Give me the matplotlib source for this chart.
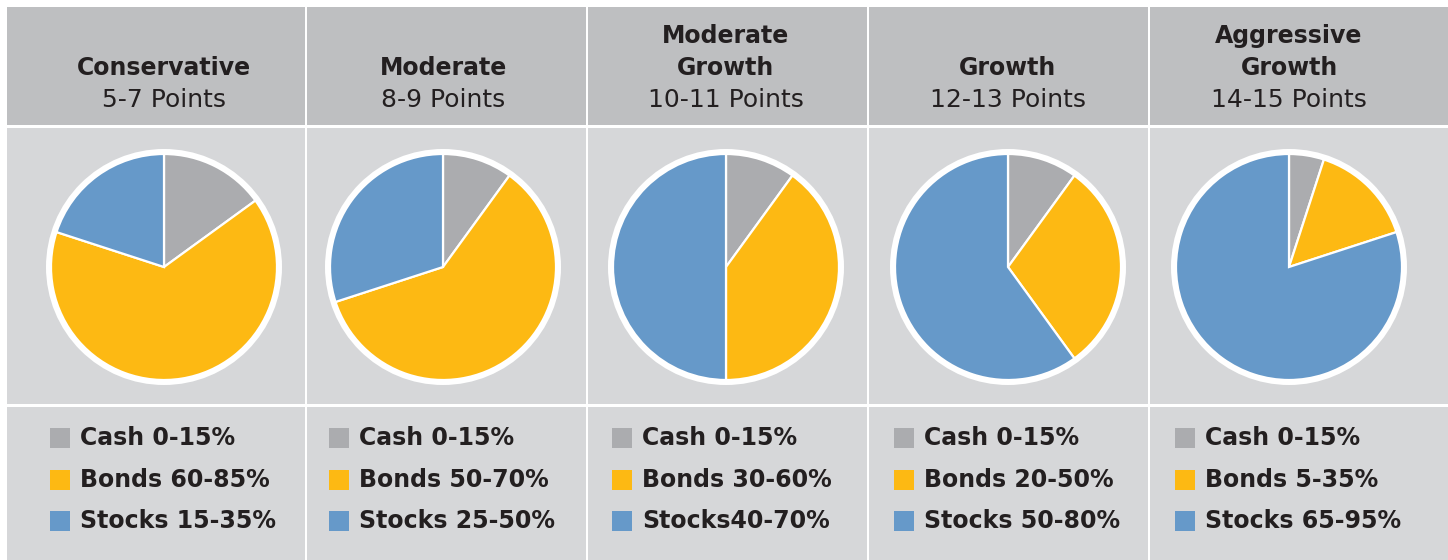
"""
Risk profile allocation pies
"""
import matplotlib.pyplot as plt
from matplotlib.patches import Rectangle, Circle

profiles = ["Conservative", "Moderate", "Moderate\nGrowth", "Growth", "Aggressive\nGrowth"]
points = ["5-7 Points", "8-9 Points", "10-11 Points", "12-13 Points", "14-15 Points"]

# pie shares (percent)
cash = [15, 10, 10, 10, 5]
bonds = [65, 60, 40, 30, 15]
stocks = [20, 30, 50, 60, 80]

cash_labels = ["Cash 0-15%"] * 5
bond_labels = ["Bonds 60-85%", "Bonds 50-70%", "Bonds 30-60%", "Bonds 20-50%", "Bonds 5-35%"]
stock_labels = ["Stocks 15-35%", "Stocks 25-50%", "Stocks40-70%", "Stocks 50-80%", "Stocks 65-95%"]

colors = ["#ABACAF", "#FDB913", "#6699C9"]
HEAD_BG = "#BEBFC1"
BODY_BG = "#D6D7D9"
INK = "#231F20"

W, H = 1448, 560
fig = plt.figure(figsize=(W / 100, H / 100), dpi=100)
ax = fig.add_axes([0, 0, 1, 1])
ax.set_xlim(0, W)
ax.set_ylim(0, H)
ax.axis("off")

col_edges = [7, 305, 586, 867, 1148, W]
pie_x = [164, 443, 726, 1008, 1289]
pie_y = H - 267
radius = 113


def ty(y):
    # top-down pixel to axes y
    return H - y


for i in range(5):
    x0, x1 = col_edges[i], col_edges[i + 1]
    if i > 0:
        x0 += 2
    ax.add_patch(Rectangle((x0, ty(125)), x1 - x0, 118, color=HEAD_BG, lw=0))
    ax.add_patch(Rectangle((x0, ty(404)), x1 - x0, 404 - 128, color=BODY_BG, lw=0))
    ax.add_patch(Rectangle((x0, 0), x1 - x0, H - 407, color=BODY_BG, lw=0))

    cx = pie_x[i]
    # header
    ax.text(cx, ty(100), points[i], ha="center", va="center", fontsize=18,
            color=INK, family="DejaVu Sans")
    name_lines = profiles[i].split("\n")
    for j, line in enumerate(reversed(name_lines)):
        ax.text(cx, ty(68 - 32 * j), line, ha="center", va="center", fontsize=17,
                fontweight="bold", color=INK, family="DejaVu Sans")

    # pie with white outer ring
    ax.add_patch(Circle((cx, pie_y), radius + 5, color="white", lw=0))
    ax.pie([cash[i], bonds[i], stocks[i]], colors=colors, startangle=90,
           counterclock=False, center=(cx, pie_y), radius=radius,
           wedgeprops=dict(edgecolor="white", linewidth=1.6), frame=True)

    # legend
    labels = [cash_labels[i], bond_labels[i], stock_labels[i]]
    for k, (lab, c) in enumerate(zip(labels, colors)):
        yc = ty([438, 480, 521][k])
        ax.add_patch(Rectangle((cx - 114, yc - 10), 20, 20, color=c, lw=0))
        ax.text(cx - 84, yc, lab, ha="left", va="center", fontsize=17,
                fontweight="bold", color=INK, family="DejaVu Sans")

ax.set_xlim(0, W)
ax.set_ylim(0, H)
ax.set_aspect("equal")
ax.axis("off")
fig.savefig("out.png", dpi=100, facecolor="white")
